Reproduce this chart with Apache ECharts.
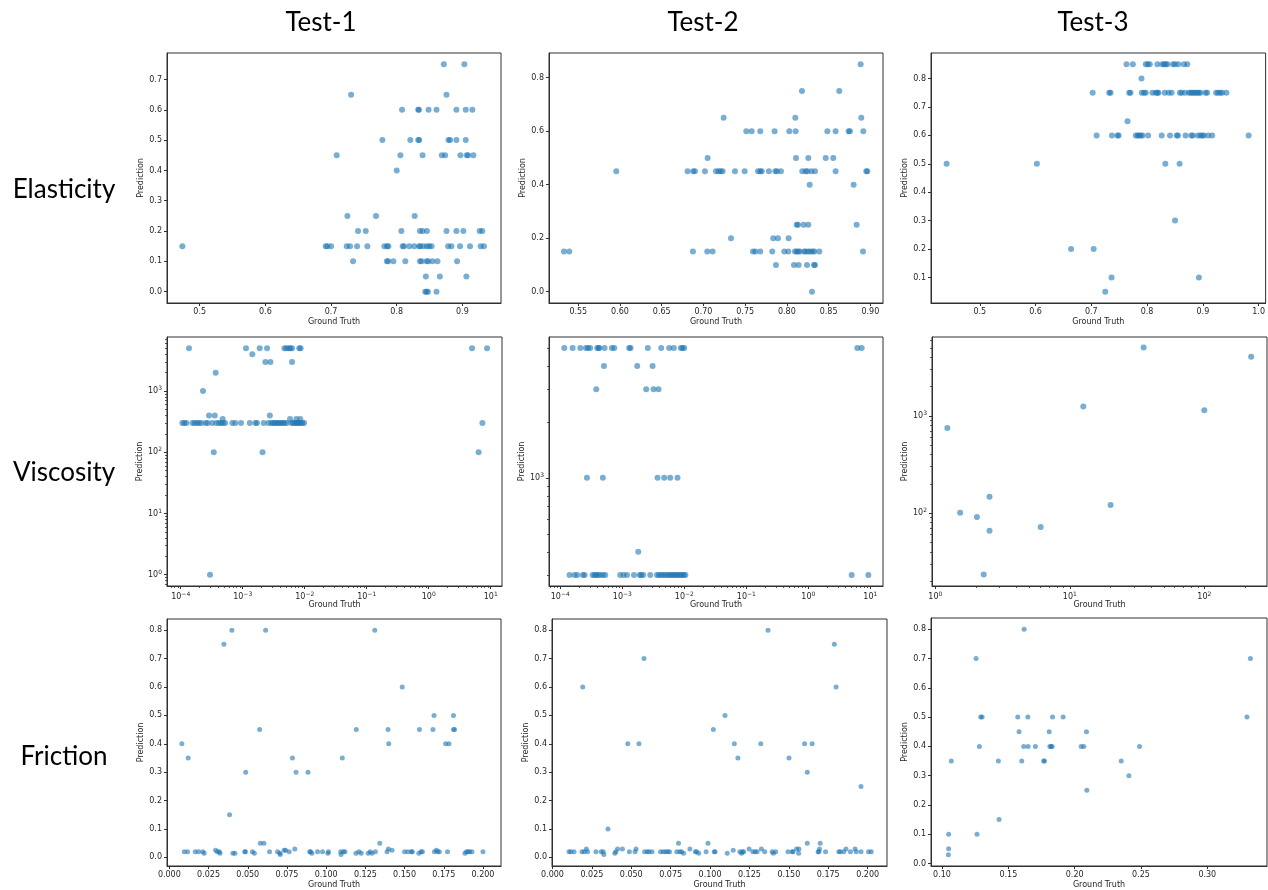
<!DOCTYPE html>
<html>
<head>
<meta charset="utf-8">
<script src="https://cdn.jsdelivr.net/npm/echarts@6/dist/echarts.min.js"></script>
<style>
  html, body { margin: 0; padding: 0; background: #fff; }
  #chart { width: 1268px; height: 890px; }
</style>
</head>
<body>
<div id="chart"></div>
<script>
// ---- labels ----
const testNames = ['Test-1', 'Test-2', 'Test-3'];
const propertyNames = ['Elasticity', 'Viscosity', 'Friction'];

// ---- data: [ground truth, prediction] ----
// Elasticity and viscosity predictions sit on a few discrete levels,
// so they are listed as  [prediction, [ground truths...]]  groups.
const elasticityTest1 = [
  [0.75, [0.8717, 0.9030]],
  [0.65, [0.7305, 0.8758]],
  [0.60, [0.8081, 0.8328, 0.8338, 0.8485, 0.8606, 0.8909, 0.9051, 0.9152]],
  [0.50, [0.7782, 0.8207, 0.8328, 0.8343, 0.8788, 0.8813, 0.8909, 0.9051]],
  [0.45, [0.7086, 0.8056, 0.8394, 0.8687, 0.8737, 0.8970, 0.9066, 0.9086, 0.9167]],
  [0.40, [0.8000]],
  [0.25, [0.7249, 0.7685, 0.8273]],
  [0.20, [0.7411, 0.7528, 0.8071, 0.8354, 0.8394, 0.8460, 0.8758, 0.8909, 0.9015, 0.9263, 0.9303]],
  [0.15, [0.4736, 0.6919, 0.6944, 0.7000, 0.7239, 0.7289, 0.7396, 0.7553, 0.7812, 0.7853, 0.7873,
          0.8091, 0.8111, 0.8192, 0.8268, 0.8343, 0.8359, 0.8409, 0.8460, 0.8495, 0.8530, 0.8783,
          0.8833, 0.8965, 0.9116, 0.9278, 0.9328]],
  [0.10, [0.7335, 0.7850, 0.7870, 0.7949, 0.8131, 0.8354, 0.8379, 0.8455, 0.8480, 0.8545, 0.8621, 0.8919]],
  [0.05, [0.8444, 0.8657, 0.9061]],
  [0.00, [0.8434, 0.8455, 0.8475, 0.8606]]
];

const elasticityTest2 = [
  [0.85, [0.8884]],
  [0.75, [0.8181, 0.8628]],
  [0.65, [0.7242, 0.8101, 0.8892]],
  [0.60, [0.7514, 0.7578, 0.7681, 0.7853, 0.8029, 0.8105, 0.8485, 0.8584, 0.8740, 0.8756, 0.8916]],
  [0.50, [0.7050, 0.8109, 0.8257, 0.8465, 0.8556]],
  [0.45, [0.5955, 0.6810, 0.6878, 0.6898, 0.7018, 0.7150, 0.7182, 0.7206, 0.7230, 0.7378, 0.7494,
          0.7654, 0.7682, 0.7698, 0.7785, 0.7861, 0.7881, 0.7929, 0.8185, 0.8225, 0.8245, 0.8293,
          0.8337, 0.8584, 0.8952, 0.8964]],
  [0.40, [0.8273, 0.8800]],
  [0.25, [0.8117, 0.8133, 0.8201, 0.8257, 0.8836]],
  [0.20, [0.7330, 0.7837, 0.7893, 0.8021]],
  [0.15, [0.5328, 0.5392, 0.6874, 0.7046, 0.7110, 0.7594, 0.7622, 0.7681, 0.7825, 0.7969, 0.8017,
          0.8097, 0.8117, 0.8137, 0.8157, 0.8209, 0.8225, 0.8257, 0.8281, 0.8309, 0.8329, 0.8389, 0.8912]],
  [0.10, [0.7869, 0.8085, 0.8141, 0.8241, 0.8325, 0.8337]],
  [0.00, [0.8301]]
];

const elasticityTest3 = [
  [0.85, [0.7631, 0.7744, 0.7976, 0.8012, 0.8048, 0.8185, 0.8274, 0.8304, 0.8333, 0.8363, 0.8464,
          0.8500, 0.8560, 0.8661, 0.8720]],
  [0.80, [0.7899]],
  [0.75, [0.7024, 0.7321, 0.7345, 0.7679, 0.7702, 0.7905, 0.7946, 0.7976, 0.8095, 0.8155, 0.8185,
          0.8202, 0.8315, 0.8387, 0.8440, 0.8589, 0.8619, 0.8679, 0.8750, 0.8780, 0.8810, 0.8839,
          0.8869, 0.8899, 0.8929, 0.8958, 0.9048, 0.9077, 0.9238, 0.9274, 0.9315, 0.9345, 0.9423]],
  [0.65, [0.7649]],
  [0.60, [0.7095, 0.7369, 0.7470, 0.7488, 0.7798, 0.7833, 0.7857, 0.7887, 0.7917, 0.8018, 0.8262,
          0.8411, 0.8530, 0.8554, 0.8690, 0.8792, 0.8821, 0.8911, 0.8958, 0.8988, 0.9018, 0.9095,
          0.9167, 0.9821]],
  [0.50, [0.4405, 0.6024, 0.8327, 0.8583]],
  [0.30, [0.8500]],
  [0.20, [0.6637, 0.7042]],
  [0.10, [0.7363, 0.8929]],
  [0.05, [0.7250]]
];

const viscosityTest1 = [
  [5000, [1.36e-4, 1.13e-3, 1.88e-3, 2.47e-3, 4.70e-3, 5.06e-3, 5.51e-3, 5.87e-3, 6.25e-3, 8.17e-3, 8.58e-3, 5.00, 8.73]],
  [4000, [1.43e-3]],
  [3000, [2.32e-3, 2.80e-3, 6.25e-3]],
  [2000, [3.67e-4]],
  [1000, [2.29e-4]],
  [400,  [2.86e-4, 3.54e-4, 2.74e-3]],
  [350,  [4.75e-4, 5.80e-3, 7.35e-3, 8.50e-3]],
  [300,  [1.064e-4, 1.146e-4, 1.234e-4, 1.542e-4, 1.681e-4, 1.834e-4, 1.975e-4, 2.155e-4, 2.53e-4,
          2.73e-4, 3.24e-4, 3.76e-4, 4.15e-4, 4.47e-4, 4.82e-4, 5.19e-4, 6.81e-4, 7.61e-4, 9.40e-4,
          1.30e-3, 1.60e-3, 1.70e-3, 2.18e-3, 2.60e-3, 2.90e-3, 3.08e-3, 3.28e-3, 3.49e-3, 3.71e-3,
          3.95e-3, 4.20e-3, 4.47e-3, 4.76e-3, 5.13e-3, 6.10e-3, 6.49e-3, 6.90e-3, 7.34e-3, 7.71e-3,
          8.11e-3, 8.61e-3, 9.17e-3, 9.75e-3, 7.35]],
  [100,  [3.41e-4, 2.09e-3, 6.38]],
  [1,    [2.97e-4]]
];

const viscosityTest2 = [
  [5000, [1.16e-4, 1.58e-4, 2.10e-4, 2.59e-4, 2.79e-4, 3.04e-4, 3.94e-4, 4.15e-4, 4.25e-4, 5.18e-4,
          6.80e-4, 7.41e-4, 1.29e-3, 1.36e-3, 2.58e-3, 4.24e-3, 5.70e-3, 6.78e-3, 8.79e-3, 9.35e-3,
          9.95e-3, 6.17, 7.25]],
  [4000, [5.06e-4, 1.74e-3, 3.08e-3]],
  [3000, [3.80e-4, 2.43e-3, 3.19e-3, 3.84e-3]],
  [1000, [2.69e-4, 4.86e-4, 3.70e-3, 4.74e-3, 5.92e-3, 7.77e-3]],
  [400,  [1.81e-3]],
  [300,  [1.41e-4, 1.70e-4, 1.88e-4, 2.32e-4, 2.47e-4, 3.32e-4, 3.57e-4, 3.80e-4, 4.05e-4, 4.41e-4,
          4.86e-4, 5.31e-4, 9.27e-4, 1.05e-3, 1.19e-3, 1.54e-3, 1.90e-3, 2.02e-3, 2.17e-3, 2.82e-3,
          3.61e-3, 3.89e-3, 4.19e-3, 4.51e-3, 4.86e-3, 5.24e-3, 5.64e-3, 6.00e-3, 6.38e-3, 6.78e-3,
          7.21e-3, 7.68e-3, 8.17e-3, 8.69e-3, 9.24e-3, 9.83e-3, 1.04e-2, 5.00, 9.29]]
];

const viscosityTest3 = [
  [1.23, 753], [1.53, 101], [2.04, 91], [2.53, 147], [2.53, 66], [2.29, 23.4],
  [6.07, 72], [12.6, 1250], [20.1, 121], [35.4, 5050], [100, 1145], [223, 4070]
];

const frictionTest1 = [
  [0.0080, 0.40], [0.0120, 0.35], [0.0348, 0.75], [0.0399, 0.80], [0.0384, 0.15], [0.0487, 0.30],
  [0.0576, 0.45], [0.0580, 0.05], [0.0603, 0.05], [0.0614, 0.80], [0.0785, 0.35], [0.0808, 0.30],
  [0.0884, 0.30], [0.0800, 0.03], [0.1103, 0.35], [0.1192, 0.45], [0.1310, 0.80], [0.1342, 0.05],
  [0.1395, 0.45], [0.1399, 0.40], [0.1397, 0.03], [0.1420, 0.025], [0.1485, 0.60], [0.1595, 0.45],
  [0.1681, 0.45], [0.1688, 0.50], [0.1762, 0.40], [0.1783, 0.40], [0.1812, 0.50], [0.1812, 0.45],
  [0.1819, 0.45],
  [0.0095, 0.02], [0.0116, 0.02], [0.0165, 0.02], [0.0186, 0.02], [0.0213, 0.02], [0.0222, 0.015],
  [0.0295, 0.025], [0.0306, 0.02], [0.0319, 0.02], [0.0323, 0.015], [0.0405, 0.015], [0.0418, 0.015],
  [0.0481, 0.02], [0.0485, 0.02], [0.0530, 0.02], [0.0542, 0.015], [0.0639, 0.02], [0.0690, 0.02],
  [0.0705, 0.015], [0.0707, 0.01], [0.0732, 0.025], [0.0741, 0.025], [0.0764, 0.02], [0.0895, 0.02],
  [0.0901, 0.02], [0.0909, 0.015], [0.0945, 0.02], [0.0977, 0.02], [0.1011, 0.015], [0.1015, 0.02],
  [0.1093, 0.02], [0.1095, 0.01], [0.1110, 0.02], [0.1120, 0.02], [0.1190, 0.015], [0.1209, 0.02],
  [0.1224, 0.015], [0.1268, 0.015], [0.1281, 0.02], [0.1293, 0.015], [0.1314, 0.02], [0.1388, 0.02],
  [0.1500, 0.02], [0.1521, 0.02], [0.1544, 0.02], [0.1549, 0.02], [0.1591, 0.015], [0.1605, 0.02],
  [0.1614, 0.02], [0.1690, 0.02], [0.1703, 0.025], [0.1711, 0.02], [0.1722, 0.02], [0.1774, 0.02],
  [0.1885, 0.015], [0.1895, 0.02], [0.1905, 0.02], [0.1915, 0.02], [0.1930, 0.02], [0.2000, 0.02]
];

const frictionTest2 = [
  [0.0192, 0.60], [0.0352, 0.10], [0.0478, 0.40], [0.0549, 0.40], [0.0581, 0.70], [0.1021, 0.45],
  [0.1095, 0.50], [0.1154, 0.40], [0.1177, 0.35], [0.1322, 0.40], [0.1368, 0.80], [0.1501, 0.35],
  [0.1600, 0.40], [0.1617, 0.30], [0.1648, 0.40], [0.1789, 0.75], [0.1800, 0.60], [0.1958, 0.25],
  [0.0800, 0.05], [0.0987, 0.05], [0.1617, 0.05], [0.1699, 0.05],
  [0.0872, 0.03], [0.1248, 0.03], [0.1326, 0.03], [0.1549, 0.03], [0.1564, 0.03], [0.1695, 0.03],
  [0.1863, 0.03], [0.1920, 0.03], [0.0215, 0.03], [0.0413, 0.03], [0.0444, 0.03], [0.0531, 0.03],
  [0.1147, 0.025],
  [0.0326, 0.01], [0.0396, 0.015], [0.0832, 0.015], [0.0928, 0.015], [0.1109, 0.015], [0.1200, 0.015],
  [0.1402, 0.015], [0.1562, 0.015],
  [0.0105, 0.02], [0.0116, 0.02], [0.0137, 0.02], [0.0187, 0.02], [0.0202, 0.02], [0.0223, 0.02],
  [0.0276, 0.02], [0.0309, 0.02], [0.0322, 0.02], [0.0402, 0.02], [0.0488, 0.02], [0.0524, 0.02],
  [0.0585, 0.02], [0.0602, 0.02], [0.0613, 0.02], [0.0632, 0.02], [0.0686, 0.02], [0.0703, 0.02],
  [0.0718, 0.02], [0.0731, 0.02], [0.0743, 0.02], [0.0789, 0.02], [0.0808, 0.02], [0.0819, 0.02],
  [0.0907, 0.02], [0.0914, 0.02], [0.0975, 0.02], [0.1027, 0.02], [0.1032, 0.02], [0.1189, 0.02],
  [0.1206, 0.02], [0.1213, 0.02], [0.1272, 0.02], [0.1286, 0.02], [0.1299, 0.02], [0.1347, 0.02],
  [0.1394, 0.02], [0.1417, 0.02], [0.1495, 0.02], [0.1522, 0.02], [0.1526, 0.02], [0.1686, 0.02],
  [0.1691, 0.02], [0.1733, 0.02], [0.1817, 0.02], [0.1827, 0.02], [0.1848, 0.02], [0.1891, 0.02],
  [0.1928, 0.02], [0.1958, 0.02], [0.2006, 0.02], [0.2023, 0.02]
];

const frictionTest3 = [
  [0.1619, 0.80], [0.1257, 0.70], [0.3325, 0.70],
  [0.1292, 0.50], [0.1302, 0.50], [0.1571, 0.50], [0.1647, 0.50], [0.1833, 0.50], [0.1913, 0.50], [0.3299, 0.50],
  [0.1581, 0.45], [0.1808, 0.45], [0.2089, 0.45],
  [0.1282, 0.40], [0.1616, 0.40], [0.1649, 0.40], [0.1704, 0.40], [0.1813, 0.40], [0.1823, 0.40],
  [0.1830, 0.40], [0.2049, 0.40], [0.2069, 0.40], [0.2489, 0.40],
  [0.1070, 0.35], [0.1425, 0.35], [0.1601, 0.35], [0.1767, 0.35], [0.1772, 0.35], [0.2351, 0.35],
  [0.2409, 0.30], [0.2092, 0.25], [0.1430, 0.15], [0.1050, 0.10], [0.1264, 0.10], [0.1050, 0.05],
  [0.1048, 0.03]
];

// ---- tick values ----
const ticksE1x = [0.5, 0.6, 0.7, 0.8, 0.9];
const ticksE1y = [0, 0.1, 0.2, 0.3, 0.4, 0.5, 0.6, 0.7];
const ticksE2x = [0.55, 0.60, 0.65, 0.70, 0.75, 0.80, 0.85, 0.90];
const ticksE2y = [0, 0.2, 0.4, 0.6, 0.8];
const ticksE3x = [0.5, 0.6, 0.7, 0.8, 0.9, 1.0];
const ticksE3y = [0.1, 0.2, 0.3, 0.4, 0.5, 0.6, 0.7, 0.8];
const ticksV1x = [1e-4, 1e-3, 1e-2, 1e-1, 1, 10];
const ticksV1y = [1, 10, 100, 1000];
const ticksV2x = [1e-4, 1e-3, 1e-2, 1e-1, 1, 10];
const ticksV2y = [1000];
const ticksV3x = [1, 10, 100];
const ticksV3y = [100, 1000];
const ticksF1x = [0, 0.025, 0.05, 0.075, 0.1, 0.125, 0.15, 0.175, 0.2];
const ticksF1y = [0, 0.1, 0.2, 0.3, 0.4, 0.5, 0.6, 0.7, 0.8];
const ticksF2x = [0, 0.025, 0.05, 0.075, 0.1, 0.125, 0.15, 0.175, 0.2];
const ticksF2y = [0, 0.1, 0.2, 0.3, 0.4, 0.5, 0.6, 0.7, 0.8];
const ticksF3x = [0.10, 0.15, 0.20, 0.25, 0.30];
const ticksF3y = [0, 0.1, 0.2, 0.3, 0.4, 0.5, 0.6, 0.7, 0.8];

// ---- layout and axis settings for each subplot ----
// box: [left, top, width, height]; log ranges are given as exponents of 10
const panels = [
  { box: [167, 53, 334, 250], size: 6, data: elasticityTest1,
    x: { range: [0.4502, 0.9588], ticks: ticksE1x, digits: 1 },
    y: { range: [-0.0375, 0.7875], ticks: ticksE1y, digits: 1 } },
  { box: [549, 53, 334, 250], size: 6, data: elasticityTest2,
    x: { range: [0.5149, 0.9152], ticks: ticksE2x, digits: 2 },
    y: { range: [-0.0425, 0.8925], ticks: ticksE2y, digits: 1 } },
  { box: [931, 53, 336, 250], size: 6, data: elasticityTest3,
    x: { range: [0.4125, 1.0125], ticks: ticksE3x, digits: 1 },
    y: { range: [0.01, 0.89], ticks: ticksE3y, digits: 1 } },
  { box: [167, 337, 335, 249], size: 6, data: viscosityTest1,
    x: { log: [-4.221, 1.182], ticks: ticksV1x },
    y: { log: [-0.185, 3.884], ticks: ticksV1y } },
  { box: [549, 337, 334, 249], size: 6, data: viscosityTest2,
    x: { log: [-4.182, 1.204], ticks: ticksV2x },
    y: { log: [2.418, 3.758], ticks: ticksV2y } },
  { box: [932, 337, 335, 249], size: 6, data: viscosityTest3,
    x: { log: [-0.0245, 2.466], ticks: ticksV3x },
    y: { log: [1.25, 3.812], ticks: ticksV3y } },
  { box: [167, 619, 334, 250], size: 5, data: frictionTest1,
    x: { range: [-0.0015, 0.2115], ticks: ticksF1x, digits: 3 },
    y: { range: [-0.0302, 0.8393], ticks: ticksF1y, digits: 1 } },
  { box: [552, 619, 335, 250], size: 5, data: frictionTest2,
    x: { range: [-0.0003, 0.2123], ticks: ticksF2x, digits: 3 },
    y: { range: [-0.0302, 0.8393], ticks: ticksF2y, digits: 1 } },
  { box: [931, 618, 336, 251], size: 5, data: frictionTest3,
    x: { range: [0.0917, 0.3450], ticks: ticksF3x, digits: 2 },
    y: { range: [-0.0085, 0.8385], ticks: ticksF3y, digits: 1 } }
];

const FONT = 'DejaVu Sans';
const AXIS_COLOR = '#303030';
const TEXT_COLOR = '#262626';
const POINT_COLOR = '#1f77b4';

// expand [prediction, [gt...]] groups into [gt, prediction] points
function toPoints(data) {
  if (Array.isArray(data[0][1])) {
    const pts = [];
    data.forEach(([pred, gts]) => gts.forEach(gt => pts.push([gt, pred])));
    return pts;
  }
  return data;
}

// "10" followed by a raised, smaller exponent
const EXP_STYLE = { fontSize: 6, fontFamily: 'DejaVu Sans', color: '#262626', padding: [0, 0, 5, 0] };
function powerLabel(v) {
  const e = Math.round(Math.log10(v));
  return '{b|10}{e|' + (e < 0 ? '\u2212' + (-e) : String(e)) + '}';
}

// minor ticks 2..9 × 10^d inside an exponent range
function minorTicks(lo, hi) {
  const out = [];
  for (let d = Math.floor(lo); d <= Math.ceil(hi); d++) {
    for (let k = 2; k <= 9; k++) {
      const v = k * Math.pow(10, d);
      const e = Math.log10(v);
      if (e >= lo && e <= hi) out.push(v);
    }
  }
  return out;
}

const labelStyle = { fontSize: 8, fontFamily: FONT, color: TEXT_COLOR };

function mainAxis(dim, gridIndex, spec) {
  const isLog = !!spec.log;
  const axisLabel = Object.assign({
    customValues: spec.ticks,
    margin: 5,
    formatter: isLog ? powerLabel : (v => Number(v).toFixed(spec.digits))
  }, labelStyle);
  if (isLog) {
    axisLabel.rich = { b: Object.assign({}, labelStyle), e: EXP_STYLE };
  }
  return {
    type: isLog ? 'log' : 'value',
    logBase: 10,
    gridIndex,
    position: dim === 'x' ? 'bottom' : 'left',
    min: isLog ? Math.pow(10, spec.log[0]) : spec.range[0],
    max: isLog ? Math.pow(10, spec.log[1]) : spec.range[1],
    splitLine: { show: false },
    axisLine: { show: true, onZero: false, lineStyle: { color: AXIS_COLOR, width: 1 } },
    axisTick: { show: true, customValues: spec.ticks, length: 3,
                lineStyle: { color: AXIS_COLOR, width: 1 } },
    axisLabel,
    name: dim === 'x' ? 'Ground Truth' : 'Prediction',
    nameLocation: 'middle',
    nameGap: dim === 'x' ? 15 : 19,
    nameTextStyle: Object.assign({}, labelStyle),
    silent: true
  };
}

function minorAxis(dim, gridIndex, spec) {
  return {
    type: 'log',
    logBase: 10,
    gridIndex,
    position: dim === 'x' ? 'bottom' : 'left',
    min: Math.pow(10, spec.log[0]),
    max: Math.pow(10, spec.log[1]),
    splitLine: { show: false },
    axisLine: { show: false, onZero: false },
    axisTick: { show: true, customValues: minorTicks(spec.log[0], spec.log[1]), length: 2,
                lineStyle: { color: AXIS_COLOR, width: 0.8 } },
    axisLabel: { show: false },
    silent: true
  };
}

const grids = [], xAxes = [], yAxes = [], series = [];
panels.forEach((p, i) => {
  grids.push({
    left: p.box[0], top: p.box[1], width: p.box[2], height: p.box[3],
    show: true, borderColor: AXIS_COLOR, borderWidth: 1, backgroundColor: '#fff',
    containLabel: false
  });
  const xi = xAxes.length, yi = yAxes.length;
  xAxes.push(mainAxis('x', i, p.x));
  yAxes.push(mainAxis('y', i, p.y));
  if (p.x.log) xAxes.push(minorAxis('x', i, p.x));
  if (p.y.log) yAxes.push(minorAxis('y', i, p.y));
  series.push({
    type: 'scatter',
    xAxisIndex: xi,
    yAxisIndex: yi,
    data: toPoints(p.data),
    symbol: 'circle',
    symbolSize: p.size,
    itemStyle: { color: POINT_COLOR, opacity: 0.6 },
    emphasis: { disabled: true },
    silent: true
  });
});

// column and row headings
const titleX = [321, 703, 1093];
const rowY = [190, 473, 757];
const headingFont = '26px Lato';
const graphics = [];
testNames.forEach((t, i) => graphics.push({
  type: 'text', x: titleX[i], y: 23, silent: true,
  style: { text: t, font: headingFont, fill: '#000', align: 'center', verticalAlign: 'middle',
           textAlign: 'center', textVerticalAlign: 'middle' }
}));
propertyNames.forEach((t, i) => graphics.push({
  type: 'text', x: 64, y: rowY[i], silent: true,
  style: { text: t, font: headingFont, fill: '#000', align: 'center', verticalAlign: 'middle',
           textAlign: 'center', textVerticalAlign: 'middle' }
}));

const chart = echarts.init(document.getElementById('chart'), null, { renderer: 'canvas' });
chart.setOption({
  backgroundColor: '#fff',
  animation: false,
  grid: grids,
  xAxis: xAxes,
  yAxis: yAxes,
  series: series,
  graphic: graphics
});
</script>
</body>
</html>
